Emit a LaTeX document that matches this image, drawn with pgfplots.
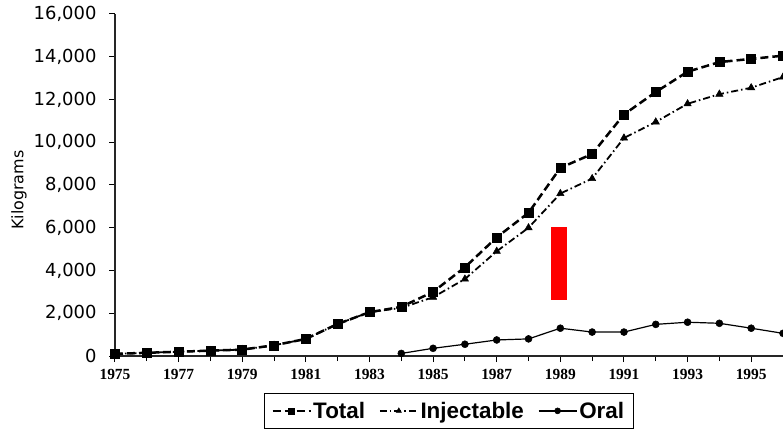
\documentclass[border=0pt]{standalone}
\usepackage{fontspec}
\setmainfont{DejaVu Sans}
\newfontfamily\xfont{Liberation Serif}
\newfontfamily\legfont{Liberation Sans}
\usepackage{pgfplots}
\pgfplotsset{compat=1.18}
\begin{document}
\begin{tikzpicture}
\begin{axis}[
  scale only axis, width=668bp, height=342bp,
  xmin=1975, xmax=1996, ymin=0, ymax=16000,
  axis x line=bottom, axis y line=left,
  axis line style={-, line width=1.2bp, black!85},
  xtick={1975,1977,...,1995},
  minor xtick={1976,1978,...,1996},
  xticklabels={1975,1977,1979,1981,1983,1985,1987,1989,1991,1993,1995},
  ytick={0,2000,...,16000},
  scaled y ticks=false,
  tick align=outside, major tick length=6bp, minor tick length=5bp,
  tick style={line width=1bp, black},
  /pgf/number format/1000 sep={,},
  /pgf/number format/assume math mode=true,
  yticklabel style={font=\fontsize{18}{20}\selectfont, xshift=-9bp},
  xticklabel style={font=\xfont\bfseries\fontsize{15.5}{16}\selectfont, yshift=-4bp},
  ylabel={Kilograms},
  ylabel style={font=\fontsize{16}{18}\selectfont, at={(axis description cs:-0.1437,0.485)}, anchor=center},
  legend columns=3,
  legend style={at={(axis description cs:0.5,0)}, anchor=north, yshift=-37bp,
    draw=black, line width=1bp, inner xsep=7bp, inner ysep=6.5bp,
    font=\legfont\bfseries\fontsize{22.5}{24}\selectfont,
    /tikz/every even column/.append style={column sep=12bp}},
  legend image code/.code={
    \draw[mark repeat=2,mark phase=2,#1, line width=1.4bp, mark size=3bp] plot coordinates {(0bp,0bp) (19bp,0bp) (38bp,0bp)};
  },
]
\addplot[black, line width=2.5bp, dash pattern=on 8bp off 4bp, mark=square*, mark size=4.5bp, mark options={solid, line width=0.5bp}]
 coordinates {(1975,100) (1976,150) (1977,200) (1978,250) (1979,300) (1980,500) (1981,800) (1982,1500) (1983,2050) (1984,2300) (1985,3000) (1986,4150) (1987,5550) (1988,6700) (1989,8800) (1990,9450) (1991,11300) (1992,12350) (1993,13300) (1994,13750) (1995,13900) (1996,14050)};
\addlegendentry{Total}
\addplot[black, line width=1.8bp, dash pattern=on 7bp off 3bp on 1.5bp off 3bp, mark=triangle*, mark size=4.2bp, mark options={solid, line width=0.5bp}]
 coordinates {(1975,100) (1976,150) (1977,200) (1978,250) (1979,300) (1980,500) (1981,800) (1982,1500) (1983,2050) (1984,2250) (1985,2750) (1986,3600) (1987,4900) (1988,6000) (1989,7600) (1990,8300) (1991,10200) (1992,10950) (1993,11800) (1994,12250) (1995,12550) (1996,13050)};
\addlegendentry{Injectable}
\addplot[black, line width=1.2bp, mark=*, mark size=3.5bp, mark options={line width=0.5bp}]
 coordinates {(1984,120) (1985,360) (1986,550) (1987,750) (1988,800) (1989,1300) (1990,1120) (1991,1120) (1992,1480) (1993,1580) (1994,1530) (1995,1300) (1996,1060)};
\addlegendentry{Oral}
\addplot[fill=red, draw=none, forget plot] coordinates {(1988.72,2640) (1989.22,2640) (1989.22,6050) (1988.72,6050)};
\end{axis}
\pgfresetboundingbox
\path (-115bp,-73bp) rectangle (668bp,356bp);
\end{tikzpicture}
\end{document}
